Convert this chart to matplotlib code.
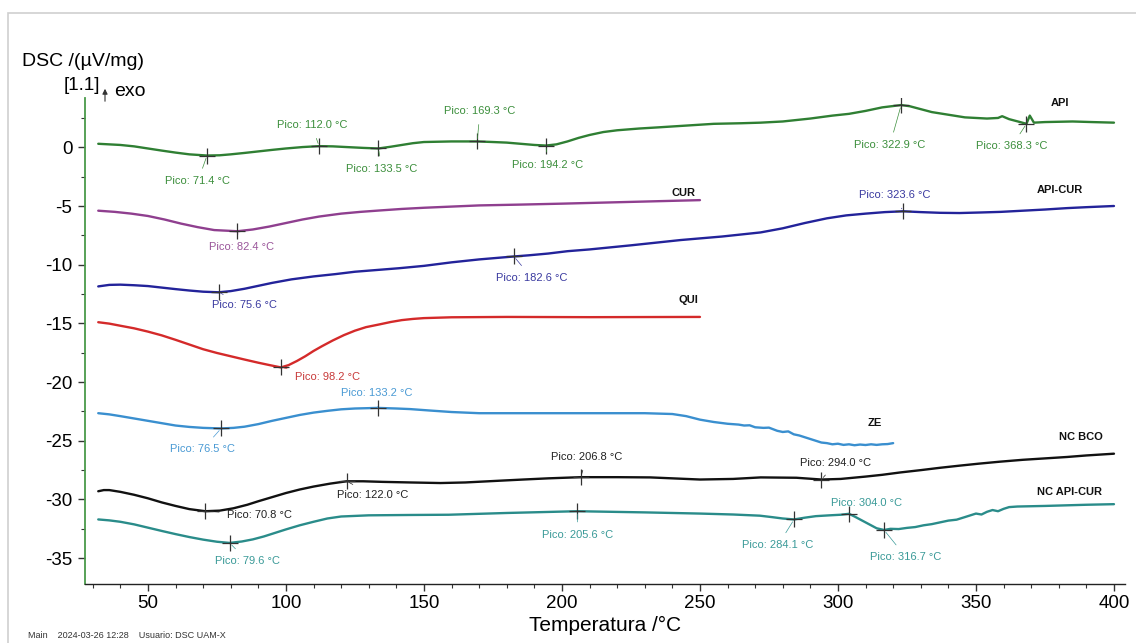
import numpy as np
import matplotlib
matplotlib.use("Agg")
import matplotlib.pyplot as plt
from matplotlib.ticker import MultipleLocator
from matplotlib.patches import Rectangle, FancyArrowPatch

# ---------------- data ----------------
api_T = [32, 40, 45, 50, 55, 60, 65, 71.4, 76, 80, 85, 90, 95, 100, 106, 112, 117, 122, 128, 133.5, 138, 142,
         146, 150, 160, 169.3, 175, 180, 185, 190, 194.2, 198, 202, 206, 210, 215, 220, 228, 235, 245, 255, 265,
         272, 280, 290, 298, 304, 310, 316, 322.9, 326, 330, 334, 338, 342, 346, 350, 354, 358, 359.5, 362, 366,
         368.3, 369.5, 371, 375, 385, 392, 400]
api_y = [0.3, 0.2, 0.08, -0.1, -0.28, -0.45, -0.6, -0.7, -0.68, -0.6, -0.48, -0.35, -0.22, -0.1, 0.02, 0.1, 0.08,
         0.02, -0.05, -0.1, 0.05, 0.2, 0.35, 0.45, 0.5, 0.5, 0.45, 0.4, 0.3, 0.2, 0.15, 0.25, 0.5, 0.8, 1.05, 1.3,
         1.45, 1.6, 1.7, 1.85, 2.0, 2.05, 2.1, 2.2, 2.45, 2.7, 2.85, 3.1, 3.4, 3.6, 3.5, 3.25, 3.0, 2.85, 2.7,
         2.55, 2.5, 2.45, 2.5, 2.65, 2.4, 2.15, 2.0, 2.7, 2.1, 2.15, 2.2, 2.15, 2.1]
api_peaks = [71.4, 112.0, 133.5, 169.3, 194.2, 322.9, 368.3]

cur_T = [32, 38, 44, 50, 56, 62, 68, 74, 82.4, 88, 94, 100, 106, 112, 120, 127, 134, 142, 150, 160, 170, 185,
         200, 225, 250]
cur_y = [-5.4, -5.5, -5.65, -5.85, -6.15, -6.5, -6.8, -7.05, -7.15, -7.0, -6.75, -6.45, -6.15, -5.9, -5.65,
         -5.5, -5.38, -5.25, -5.15, -5.05, -4.95, -4.88, -4.8, -4.65, -4.5]
cur_peaks = [82.4]

apicur_T = [32, 36, 40, 45, 50, 55, 60, 65, 70, 75.6, 80, 85, 90, 95, 102, 110, 118, 125, 133, 141, 150, 160,
            170, 182.6, 188, 195, 202, 210, 225, 243, 258, 272, 280, 288, 296, 303, 310, 317, 323.6, 330, 337,
            344, 352, 359, 367, 375, 383, 390, 400]
apicur_y = [-11.85, -11.72, -11.7, -11.75, -11.82, -11.95, -12.08, -12.2, -12.3, -12.35, -12.25, -12.05, -11.8,
            -11.55, -11.25, -11.0, -10.8, -10.6, -10.45, -10.3, -10.1, -9.8, -9.55, -9.3, -9.2, -9.05, -8.85,
            -8.7, -8.35, -7.9, -7.6, -7.25, -6.9, -6.45, -6.05, -5.8, -5.65, -5.52, -5.45, -5.52, -5.58, -5.6,
            -5.55, -5.5, -5.4, -5.3, -5.18, -5.1, -5.0]
apicur_peaks = [75.6, 182.6, 323.6]

qui_T = [32, 36, 40, 45, 50, 55, 60, 65, 70, 75, 80, 85, 90, 94, 98.2, 101, 104, 107, 110, 113, 117, 121, 125,
         129, 134, 138, 142, 146, 150, 160, 180, 210, 250]
qui_y = [-14.9, -15.02, -15.2, -15.42, -15.7, -16.02, -16.4, -16.8, -17.2, -17.52, -17.8, -18.08, -18.35, -18.55,
         -18.75, -18.55, -18.2, -17.8, -17.35, -16.95, -16.45, -16.0, -15.62, -15.32, -15.08, -14.88, -14.72,
         -14.62, -14.55, -14.48, -14.45, -14.47, -14.45]
qui_peaks = [98.2]

ze_T = [32, 36, 40, 45, 50, 55, 60, 65, 70, 76.5, 81, 85, 90, 95, 100, 105, 110, 115, 120, 125, 133.2, 140, 145,
        152, 160, 170, 200, 230, 240, 245, 250, 255, 260, 264, 266, 268, 270, 273, 275, 278, 280, 282, 284, 286,
        288, 290, 292, 294, 296, 298, 300, 302, 304, 306, 308, 310, 312, 314, 316, 318, 320]
ze_y = [-22.65, -22.75, -22.9, -23.1, -23.3, -23.5, -23.7, -23.82, -23.9, -23.95, -23.9, -23.8, -23.58, -23.3,
        -23.05, -22.8, -22.6, -22.45, -22.32, -22.25, -22.2, -22.25, -22.3, -22.42, -22.55, -22.65, -22.65,
        -22.65, -22.72, -22.9, -23.2, -23.4, -23.55, -23.62, -23.7, -23.68, -23.85, -23.9, -23.88, -24.15,
        -24.25, -24.2, -24.45, -24.55, -24.7, -24.85, -25.0, -25.15, -25.2, -25.3, -25.25, -25.35, -25.3,
        -25.38, -25.32, -25.36, -25.3, -25.35, -25.3, -25.28, -25.2]
ze_peaks = [76.5, 133.2]

bco_T = [32, 34, 36, 40, 45, 50, 55, 60, 65, 70.8, 76, 81, 86, 90, 95, 100, 105, 110, 116, 122, 128, 135, 145,
         156, 165, 177.5, 186, 195, 206.8, 220, 232, 242, 250, 262, 272, 285, 294, 301, 310, 316, 322.5, 330,
         337, 344, 351, 358.7, 367, 375, 383, 390, 400]
bco_y = [-29.3, -29.2, -29.2, -29.35, -29.6, -29.9, -30.25, -30.55, -30.82, -31.0, -30.95, -30.75, -30.45,
         -30.15, -29.8, -29.45, -29.15, -28.9, -28.65, -28.45, -28.45, -28.5, -28.55, -28.6, -28.55, -28.4,
         -28.3, -28.2, -28.1, -28.1, -28.12, -28.22, -28.3, -28.25, -28.12, -28.15, -28.3, -28.25, -28.05,
         -27.9, -27.7, -27.5, -27.3, -27.12, -26.95, -26.78, -26.62, -26.5, -26.38, -26.25, -26.1]
bco_peaks = [70.8, 122.0, 206.8, 294.0]

nc_T = [32, 36, 40, 45, 50, 55, 60, 65, 70, 75, 79.6, 84, 88, 92, 96, 100, 105, 110, 115, 120, 130, 145, 159,
        180, 205.6, 230, 250, 262, 271.7, 276, 280, 284.1, 288, 292, 297, 301, 304, 306, 308, 310, 312, 314,
        316.7, 319, 322, 325, 328, 331, 334, 337, 340, 343, 346, 348, 350, 352, 354, 356, 358, 360, 362, 365,
        375, 390, 400]
nc_y = [-31.7, -31.78, -31.9, -32.12, -32.4, -32.68, -32.95, -33.2, -33.42, -33.6, -33.7, -33.58, -33.4, -33.15,
        -32.85, -32.55, -32.2, -31.9, -31.62, -31.45, -31.35, -31.32, -31.3, -31.15, -31.0, -31.1, -31.2,
        -31.28, -31.38, -31.5, -31.62, -31.7, -31.55, -31.42, -31.35, -31.3, -31.22, -31.45, -31.7, -31.95,
        -32.2, -32.45, -32.6, -32.5, -32.52, -32.42, -32.35, -32.2, -32.1, -31.95, -31.8, -31.72, -31.5,
        -31.35, -31.2, -31.28, -31.05, -30.9, -31.0, -30.8, -30.65, -30.6, -30.55, -30.45, -30.4]
nc_peaks = [79.6, 205.6, 284.1, 304.0, 316.7]

# ---------------- layout (label positions, colours) ----------------
curves = [
    dict(name="API", T=api_T, y=api_y, peaks=api_peaks, color="#2f7f33", tcolor="#3c8f3c",
         name_pos=(380.4, 3.75),
         label_pos=[(68.1, -2.9), (109.4, 1.87), (134.8, -1.87), (170.3, 3.07), (194.9, -1.53),
                    (318.8, 0.17), (363.0, 0.09)]),
    dict(name="CUR", T=cur_T, y=cur_y, peaks=cur_peaks, color="#8f3f8f", tcolor="#9a559a",
         name_pos=(244.2, -3.9), label_pos=[(84.1, -8.5)]),
    dict(name="API-CUR", T=apicur_T, y=apicur_y, peaks=apicur_peaks, color="#23239a", tcolor="#3a3aa0",
         name_pos=(380.4, -3.66),
         label_pos=[(85.1, -13.4), (189.0, -11.1), (320.7, -4.1)]),
    dict(name="QUI", T=qui_T, y=qui_y, peaks=qui_peaks, color="#d42a2a", tcolor="#c83a3a",
         name_pos=(245.7, -13.0), label_pos=[(115.2, -19.6)]),
    dict(name="ZE", T=ze_T, y=ze_y, peaks=ze_peaks, color="#3a8fcf", tcolor="#4a9ad4",
         name_pos=(313.4, -23.5), label_pos=[(69.9, -25.7), (133.0, -20.95)]),
    dict(name="NC BCO", T=bco_T, y=bco_y, peaks=bco_peaks, color="#111111", tcolor="#222222",
         name_pos=(388.0, -24.7),
         label_pos=[(90.6, -31.3), (131.5, -29.6), (209.0, -26.4), (299.3, -26.9)]),
    dict(name="NC API-CUR", T=nc_T, y=nc_y, peaks=nc_peaks, color="#2a8c8a", tcolor="#3a9a98",
         name_pos=(384.0, -29.4),
         label_pos=[(85.9, -35.2), (205.8, -33.05), (278.3, -33.9), (310.5, -30.3), (324.6, -34.9)]),
]

narrow = ["Liberation Sans Narrow", "Liberation Sans", "DejaVu Sans"]
plt.rcParams["font.family"] = ["Liberation Sans", "DejaVu Sans"]
plt.rcParams["axes.unicode_minus"] = False

fig = plt.figure(figsize=(11.36, 6.43), dpi=100)
fig.patch.set_facecolor("white")
fig.patches.append(Rectangle((8 / 1136, -0.01), 1.02, 1 - 13 / 643 + 0.01, transform=fig.transFigure,
                             fill=False, edgecolor="#cfcfcf", lw=1.2))

ax = fig.add_axes([85 / 1136, 1 - 584 / 643, (1125 - 85) / 1136, (584 - 98) / 643])
ax.set_xlim(27.2, 404)
ax.set_ylim(-37.2, 4.2)

for c in curves:
    ax.plot(c["T"], c["y"], color=c["color"], lw=1.7, solid_joinstyle="round", solid_capstyle="round", zorder=3)
    for pk, (lx, ly) in zip(c["peaks"], c["label_pos"]):
        py = float(np.interp(pk, c["T"], c["y"]))
        ax.plot([pk], [py], marker="+", ms=11, mew=0.9, color="#333333", zorder=4)
        ax.annotate("Pico: %.1f °C" % pk, xy=(pk, py), xytext=(lx, ly), ha="center", va="center",
                    fontsize=8, color=c["tcolor"], family=narrow,
                    arrowprops=dict(arrowstyle="-", lw=0.5, color=c["tcolor"], shrinkA=4, shrinkB=2),
                    zorder=5)
    ax.text(c["name_pos"][0], c["name_pos"][1], c["name"], ha="center", va="center", fontsize=8,
            fontweight="bold", color="#111111", family=narrow, zorder=5)

for s in ["top", "right"]:
    ax.spines[s].set_visible(False)
ax.spines["left"].set_color("#4a9a4a")
ax.spines["left"].set_linewidth(1.3)
ax.spines["bottom"].set_color("#222222")
ax.spines["bottom"].set_linewidth(1.0)

ax.xaxis.set_minor_locator(MultipleLocator(10))
ax.yaxis.set_minor_locator(MultipleLocator(2.5))
ax.set_xticks([50, 100, 150, 200, 250, 300, 350, 400])
ax.set_yticks([0, -5, -10, -15, -20, -25, -30, -35])
ax.tick_params(axis="both", which="major", direction="out", length=5, width=1, color="#333333",
               labelsize=13.5, pad=4)
ax.tick_params(axis="both", which="minor", direction="out", length=3, width=0.8, color="#333333")
ax.tick_params(axis="x", pad=3)
ax.set_xlabel("Temperatura /°C", fontsize=15, labelpad=3)

fig.text(22 / 1136, 1 - 62 / 643, "DSC /(µV/mg)", fontsize=14, va="center", ha="left")
fig.text(64 / 1136, 1 - 86 / 643, "[1.1]", fontsize=13.5, va="center", ha="left")
fig.text(114 / 1136, 1 - 92 / 643, "exo", fontsize=14, va="center", ha="left")
fig.add_artist(FancyArrowPatch((105 / 1136, 1 - 104 / 643), (105 / 1136, 1 - 86 / 643),
                               transform=fig.transFigure, arrowstyle="-|>,head_length=3,head_width=1.5",
                               lw=0.8, color="#333333"))
fig.text(28 / 1136, 1 - 636 / 643, "Main    2024-03-26 12:28    Usuario: DSC UAM-X", fontsize=6.5,
         color="#333333", va="center", ha="left", family=narrow)

fig.savefig("out.png", dpi=100, facecolor="white")
